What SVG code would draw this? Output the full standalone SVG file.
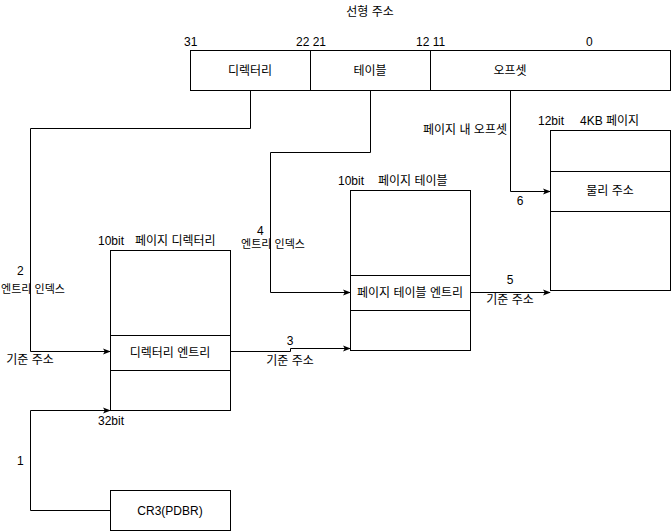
<svg xmlns="http://www.w3.org/2000/svg" width="671" height="531" viewBox="0 0 671 531">
<style>
text{font-family:"Liberation Sans","Noto Sans CJK KR",sans-serif;font-size:12px;fill:#000}
.m{text-anchor:middle}
.box{fill:#fff;stroke:#000;stroke-width:1}
.c{fill:none;stroke:#000;stroke-width:1}
</style>
<defs>
<marker id="a" viewBox="0 0 10 10" refX="9" refY="5" markerWidth="8" markerHeight="8" orient="auto" markerUnits="userSpaceOnUse">
<path d="M0,1 L10,5 L0,9 L2.5,5 Z" fill="#000"/>
</marker>
</defs>
<rect width="671" height="531" fill="#fff"/>
<g id="linear-address">
<text class="m" x="370" y="16">선형 주소</text>
<text x="184" y="46">31</text>
<text x="296" y="46">22 21</text>
<text x="416" y="46">12 11</text>
<text x="586" y="46">0</text>
<rect class="box" x="190.5" y="50.5" width="120" height="40"/>
<rect class="box" x="310.5" y="50.5" width="120" height="40"/>
<rect class="box" x="430.5" y="50.5" width="240" height="40"/>
<text class="m" x="250" y="75">디렉터리</text>
<text class="m" x="370" y="75">테이블</text>
<text class="m" x="510" y="75">오프셋</text>
</g>
<g id="page-directory">
<text x="98" y="245">10bit</text>
<text x="135" y="245">페이지 디렉터리</text>
<rect class="box" x="110.5" y="250.5" width="120" height="160"/>
<rect class="box" x="110.5" y="335.5" width="120" height="35"/>
<text class="m" x="170" y="357">디렉터리 엔트리</text>
<text x="98" y="425">32bit</text>
</g>
<g id="page-table">
<text x="338" y="185">10bit</text>
<text x="378" y="185">페이지 테이블</text>
<rect class="box" x="350.5" y="190.5" width="120" height="160"/>
<rect class="box" x="350.5" y="275.5" width="120" height="35"/>
<text class="m" x="410" y="297">페이지 테이블 엔트리</text>
</g>
<g id="page">
<text x="538" y="125">12bit</text>
<text x="580" y="125">4KB 페이지</text>
<rect class="box" x="550.5" y="130.5" width="120" height="160"/>
<rect class="box" x="550.5" y="171.5" width="120" height="40"/>
<text class="m" x="610" y="195">물리 주소</text>
</g>
<g id="cr3">
<rect class="box" x="110.5" y="490.5" width="120" height="40"/>
<text class="m" x="170" y="515">CR3(PDBR)</text>
</g>
<g id="connectors">
<polyline class="c" points="250.5,90.5 250.5,128.5 30.5,128.5 30.5,351.5 110,351.5" marker-end="url(#a)"/>
<polyline class="c" points="370.5,90.5 370.5,152.5 270.5,152.5 270.5,292.5 350,292.5" marker-end="url(#a)"/>
<polyline class="c" points="510.5,90.5 510.5,191.5 550,191.5" marker-end="url(#a)"/>
<polyline class="c" points="230.5,351.5 290.5,351.5 290.5,348.5 350,348.5" marker-end="url(#a)"/>
<polyline class="c" points="470.5,292.5 550,292.5" marker-end="url(#a)"/>
<polyline class="c" points="110.5,510.5 30.5,510.5 30.5,410.5 110,410.5" marker-end="url(#a)"/>
<text x="17" y="275">2</text>
<text class="m" x="33" y="293" style="font-size:11px">엔트리 인덱스</text>
<text class="m" x="30" y="364">기준 주소</text>
<text x="257" y="235">4</text>
<text class="m" x="273" y="248" style="font-size:11px">엔트리 인덱스</text>
<text class="m" x="290" y="345">3</text>
<text class="m" x="290" y="365">기준 주소</text>
<text class="m" x="510" y="284">5</text>
<text class="m" x="510" y="304">기준 주소</text>
<text class="m" x="520" y="205">6</text>
<text class="m" x="465" y="134">페이지 내 오프셋</text>
<text x="17" y="465">1</text>
</g>
</svg>
